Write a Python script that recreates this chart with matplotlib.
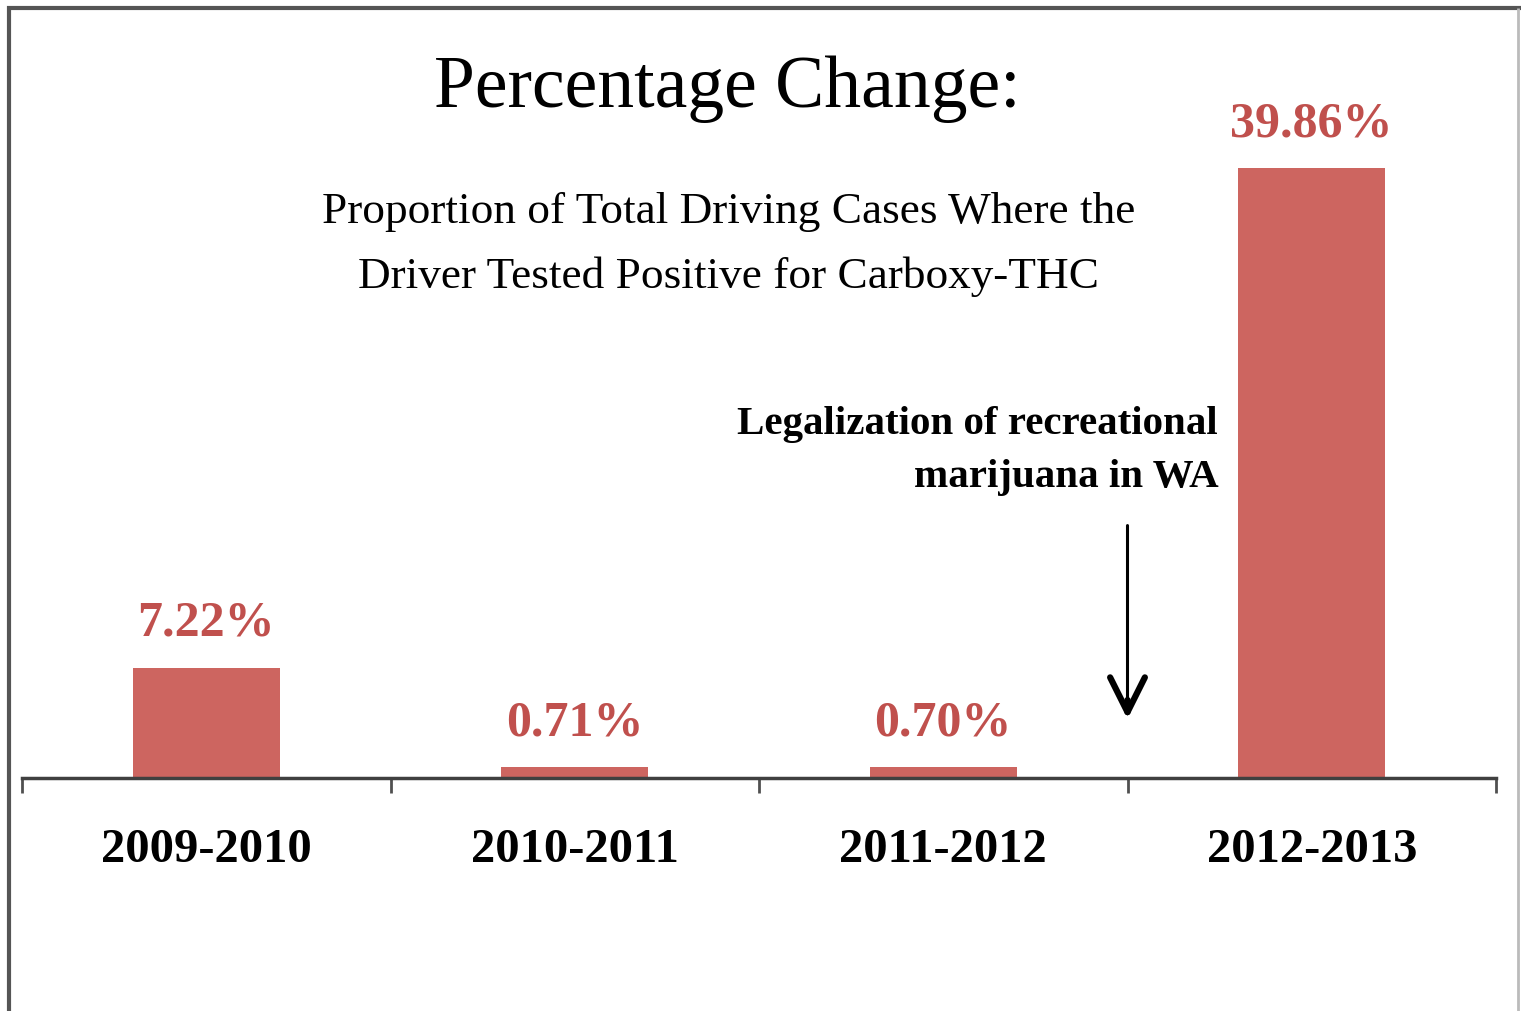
import matplotlib
matplotlib.use('Agg')
import matplotlib.pyplot as plt
from matplotlib.patches import Rectangle

plt.rcParams['font.family'] = ['Liberation Serif', 'DejaVu Serif']

periods = ['2009-2010', '2010-2011', '2011-2012', '2012-2013']
pct_change = [7.22, 0.71, 0.70, 39.86]
value_labels = ['7.22%', '0.71%', '0.70%', '39.86%']

BAR_COLOR = '#CD6560'
LABEL_COLOR = '#C0504D'

W, H = 1521, 1011
fig = plt.figure(figsize=(W / 100, H / 100), dpi=100)

# frame around the whole picture
fig.add_artist(Rectangle((8.5 / W, -0.02), 1.2, 1.0 - 7.5 / H + 0.02,
                         transform=fig.transFigure, fill=False,
                         edgecolor='#555555', lw=3))
fig.add_artist(Rectangle((1518 / W, 0), 0, 1.0 - 7.5 / H,
                         transform=fig.transFigure, fill=False,
                         edgecolor='#bbbbbb', lw=2))

ax = fig.add_axes([22 / W, (H - 778) / H, (1496 - 22) / W, (778 - 10) / H])
x = list(range(len(periods)))
ax.bar(x, pct_change, width=0.40, color=BAR_COLOR, zorder=2)
ax.set_xlim(-0.5, len(periods) - 0.5)
ax.set_ylim(0, 50.2)

for xi, v, lab in zip(x, pct_change, value_labels):
    ax.annotate(lab, (xi, v), xytext=(0, 23), textcoords='offset points',
                ha='center', va='baseline', fontsize=36, fontweight='bold',
                color=LABEL_COLOR)

# axis: only the baseline with boundary ticks
for s in ['top', 'right', 'left']:
    ax.spines[s].set_visible(False)
ax.spines['bottom'].set_color('#404040')
ax.spines['bottom'].set_linewidth(2.5)
ax.set_yticks([])
ax.set_xticks([i - 0.5 for i in range(len(periods) + 1)])
ax.set_xticklabels([])
ax.tick_params(axis='x', which='major', length=11, width=2, color='#505050',
               direction='out')
ax.set_xticks(x, periods, minor=True)
ax.tick_params(axis='x', which='minor', length=0, pad=36, labelsize=35)
for t in ax.get_xticklabels(minor=True):
    t.set_fontweight('bold')

# legalization note + arrow (thin shaft, heavier open head)
ax.text(2.746, 22.5, 'Legalization of recreational', ha='right', va='baseline',
        fontsize=29.5, fontweight='bold')
ax.text(2.746, 19.0, 'marijuana in WA', ha='right', va='baseline',
        fontsize=29.5, fontweight='bold')
ax.annotate('', xy=(2.5, 4.2), xytext=(2.5, 16.5),
            arrowprops=dict(arrowstyle='-', lw=2.2, color='black',
                            shrinkA=0, shrinkB=0))
ax.annotate('', xy=(2.5, 3.85), xytext=(2.5, 5.1),
            arrowprops=dict(arrowstyle='->, head_length=2.5, head_width=1.25',
                            lw=4.5, color='black', shrinkA=0, shrinkB=0))

fig.text(727 / W, (H - 107) / H, 'Percentage Change:', ha='center',
         va='baseline', fontsize=53)
fig.text(729 / W, (H - 223) / H, 'Proportion of Total Driving Cases Where the',
         ha='center', va='baseline', fontsize=32.6)
fig.text(729 / W, (H - 288) / H, 'Driver Tested Positive for Carboxy-THC',
         ha='center', va='baseline', fontsize=32.6)

fig.savefig('out.png', dpi=100, facecolor='white')
